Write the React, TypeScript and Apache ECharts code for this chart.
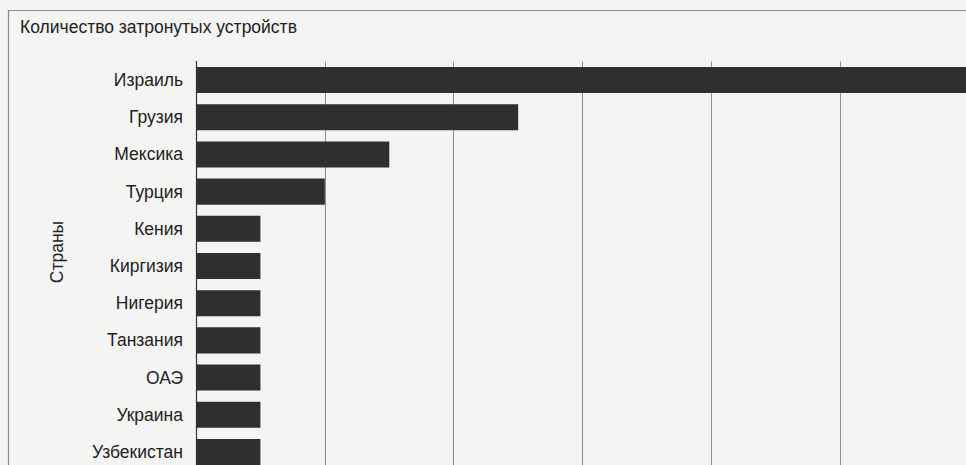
import React, { useEffect, useRef } from "react";
import * as echarts from "echarts";

const title = "Количество затронутых устройств";
const axisName = "Страны";
const countries = [
  "Израиль",
  "Грузия",
  "Мексика",
  "Турция",
  "Кения",
  "Киргизия",
  "Нигерия",
  "Танзания",
  "ОАЭ",
  "Украина",
  "Узбекистан",
];
const devices = [12, 5, 3, 2, 1, 1, 1, 1, 1, 1, 1];

export default function App() {
  const ref = useRef<HTMLDivElement>(null);
  useEffect(() => {
    if (!ref.current) return;
    const chart = echarts.init(ref.current, null, { renderer: "svg" });
    chart.setOption({
      animation: false,
      backgroundColor: "#f4f4f3",
      textStyle: { fontFamily: "Liberation Sans, Arial, sans-serif" },
      title: {
        text: title,
        left: 15,
        top: 13,
        textStyle: { fontSize: 17.5, fontWeight: "normal", color: "#222" },
      },
      graphic: [
        {
          type: "rect",
          shape: { x: 8.5, y: 10.5, width: 980, height: 480 },
          style: { fill: "none", stroke: "#8a8a8a", lineWidth: 1.2 },
          silent: true,
          z: 100,
        },
        {
          type: "text",
          x: 57,
          y: 252,
          rotation: Math.PI / 2,
          style: {
            text: axisName,
            fontSize: 17.5,
            fontFamily: "Liberation Sans, Arial, sans-serif",
            fill: "#222",
            align: "center",
            verticalAlign: "middle",
          },
          silent: true,
        },
      ],
      grid: {
        left: 196,
        right: 0,
        top: 61.5,
        height: 409,
        containLabel: false,
        outerBoundsMode: "none",
      },
      xAxis: {
        type: "value",
        min: 0,
        max: 11.95,
        interval: 2,
        axisLabel: { show: false },
        axisTick: { show: false },
        axisLine: { show: false },
        splitLine: { show: true, lineStyle: { color: "#8c8c8c", width: 1 } },
      },
      yAxis: {
        type: "category",
        inverse: true,
        data: countries,
        axisLine: { show: true, lineStyle: { color: "#333", width: 1.2 } },
        axisTick: { show: false },
        axisLabel: { fontSize: 17.5, color: "#222", margin: 13 },
      },
      series: [
        {
          type: "bar",
          data: devices,
          barCategoryGap: "30%",
          itemStyle: { color: "#2f2f2f" },
          clip: true,
        },
      ],
    });
    return () => chart.dispose();
  }, []);
  return (
    <div
      ref={ref}
      style={{ position: "fixed", left: 0, top: 0, width: 966, height: 465 }}
    />
  );
}
